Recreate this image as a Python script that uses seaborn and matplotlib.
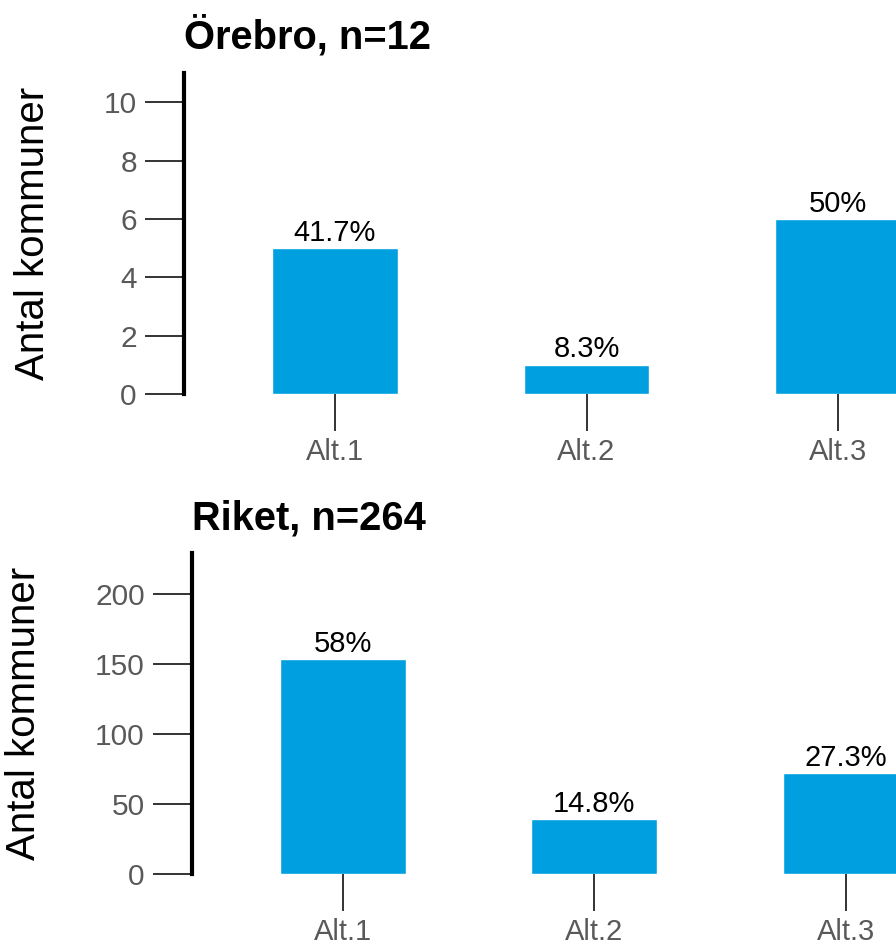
import matplotlib
matplotlib.use("Agg")
import matplotlib.pyplot as plt
import pandas as pd
import seaborn as sns

# Svarsalternativ och antal kommuner per alternativ
ALTERNATIV = ["Alt.1", "Alt.2", "Alt.3"]

OREBRO_ANTAL = [5, 1, 6]
OREBRO_ANDEL = ["41.7%", "8.3%", "50%"]
OREBRO_TICKS = [0, 2, 4, 6, 8, 10]

RIKET_ANTAL = [153, 39, 72]
RIKET_ANDEL = ["58%", "14.8%", "27.3%"]
RIKET_TICKS = [0, 50, 100, 150, 200]

FARG_STAPEL = "#009FE0"
FARG_TICK = "#333333"
FARG_TEXT = "#595959"


def configurar_estilo():
    sns.set_theme(style="white")
    plt.rcParams["font.family"] = ["Liberation Sans", "DejaVu Sans"]


def rita_panel(ax, titel, antal, andel, ticks, ymax, xmax, label_x, title_pad):
    df = pd.DataFrame({"alternativ": ALTERNATIV, "antal": antal})
    sns.barplot(
        data=df,
        x="alternativ",
        y="antal",
        color=FARG_STAPEL,
        saturation=1,
        width=0.5,
        ax=ax,
    )

    # Andel i procent ovanfor varje stapel
    ax.bar_label(ax.containers[0], labels=andel, padding=1, fontsize=21, color="black")

    ax.set_title(titel, loc="left", fontsize=28.7, fontweight="bold",
                 color="black", pad=title_pad)
    ax.set_xlabel("")
    ax.set_ylabel("Antal kommuner", fontsize=29, color="black")
    ax.yaxis.set_label_coords(label_x, 0.5)

    ax.set_ylim(0, ymax)
    ax.set_xlim(-0.6, xmax)
    ax.set_yticks(ticks)

    for side in ["top", "right", "bottom"]:
        ax.spines[side].set_visible(False)
    ax.spines["left"].set_color("black")
    ax.spines["left"].set_linewidth(3)

    ax.tick_params(axis="y", left=True, length=28, width=1.4, color=FARG_TICK,
                   pad=6, labelsize=21.5, labelcolor=FARG_TEXT)
    ax.tick_params(axis="x", bottom=True, length=26.5, width=1.4, color=FARG_TICK,
                   pad=5, labelsize=21, labelcolor=FARG_TEXT)
    ax.grid(False)


def gerar_grafico():
    configurar_estilo()

    fig = plt.figure(figsize=(8.96, 9.47), dpi=100)

    ax_top = fig.add_axes([0.2054, 0.5839, 0.7946, 0.3390])
    rita_panel(ax_top, "Örebro, n=12", OREBRO_ANTAL, OREBRO_ANDEL, OREBRO_TICKS,
               ymax=11, xmax=2.23, label_x=-0.185, title_pad=18)

    ax_bot = fig.add_axes([0.2143, 0.0771, 0.7857, 0.3390])
    rita_panel(ax_bot, "Riket, n=264", RIKET_ANTAL, RIKET_ANDEL, RIKET_TICKS,
               ymax=229, xmax=2.2, label_x=-0.212, title_pad=17)

    fig.savefig("out.png", dpi=100)
    plt.close(fig)


if __name__ == "__main__":
    gerar_grafico()
